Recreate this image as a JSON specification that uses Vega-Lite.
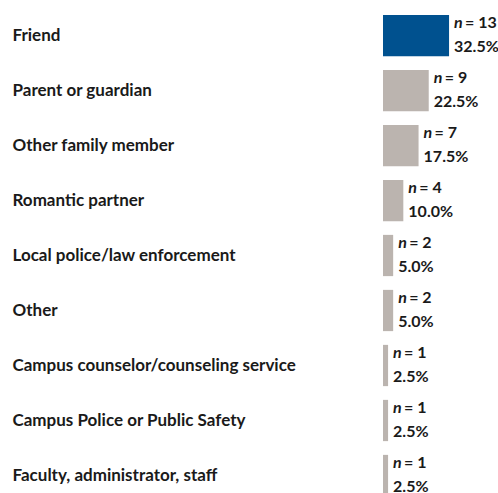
{
  "$schema": "https://vega.github.io/schema/vega-lite/v6.json",
  "width": 110,
  "height": 495,
  "autosize": {"type": "none"},
  "padding": {"left": 383, "top": 8, "right": 5, "bottom": 0},
  "background": "white",
  "config": {"view": {"stroke": null}, "font": "Lato"},
  "data": {
    "values": [
      {"source": "Friend", "n": 13, "nlab": "= 13", "pct": "32.5%", "hl": "yes"},
      {"source": "Parent or guardian", "n": 9, "nlab": "= 9", "pct": "22.5%", "hl": "no"},
      {"source": "Other family member", "n": 7, "nlab": "= 7", "pct": "17.5%", "hl": "no"},
      {"source": "Romantic partner", "n": 4, "nlab": "= 4", "pct": "10.0%", "hl": "no"},
      {"source": "Local police/law enforcement", "n": 2, "nlab": "= 2", "pct": "5.0%", "hl": "no"},
      {"source": "Other", "n": 2, "nlab": "= 2", "pct": "5.0%", "hl": "no"},
      {"source": "Campus counselor/counseling service", "n": 1, "nlab": "= 1", "pct": "2.5%", "hl": "no"},
      {"source": "Campus Police or Public Safety", "n": 1, "nlab": "= 1", "pct": "2.5%", "hl": "no"},
      {"source": "Faculty, administrator, staff", "n": 1, "nlab": "= 1", "pct": "2.5%", "hl": "no"}
    ]
  },
  "encoding": {
    "y": {
      "field": "source", "type": "nominal", "sort": null,
      "scale": {"paddingInner": 0.25, "paddingOuter": 0.125},
      "axis": {
        "title": null, "domain": false, "ticks": false, "tickSize": 0,
        "labelAlign": "left", "labelPadding": 371, "labelFont": "Lato",
        "labelFontWeight": "bold", "labelFontSize": 17, "labelColor": "#1a1a1a",
        "labelLimit": 360
      }
    },
    "x": {
      "field": "n", "type": "quantitative",
      "scale": {"domain": [0, 21.65], "nice": false, "zero": true},
      "axis": null
    }
  },
  "layer": [
    {
      "mark": {"type": "bar"},
      "encoding": {
        "color": {
          "field": "hl", "type": "nominal", "legend": null,
          "scale": {"domain": ["yes", "no"], "range": ["#00518f", "#bbb4af"]}
        }
      }
    },
    {
      "mark": {"type": "text", "align": "left", "baseline": "middle", "dx": 5, "dy": -13, "fontSize": 16, "fontWeight": "bold", "fontStyle": "italic", "color": "#1a1a1a"},
      "encoding": {"text": {"value": "n"}}
    },
    {
      "mark": {"type": "text", "align": "left", "baseline": "middle", "dx": 16, "dy": -13, "fontSize": 16, "fontWeight": "bold", "color": "#1a1a1a"},
      "encoding": {"text": {"field": "nlab"}}
    },
    {
      "mark": {"type": "text", "align": "left", "baseline": "middle", "dx": 5, "dy": 11, "fontSize": 16, "fontWeight": "bold", "color": "#1a1a1a"},
      "encoding": {"text": {"field": "pct"}}
    }
  ]
}
